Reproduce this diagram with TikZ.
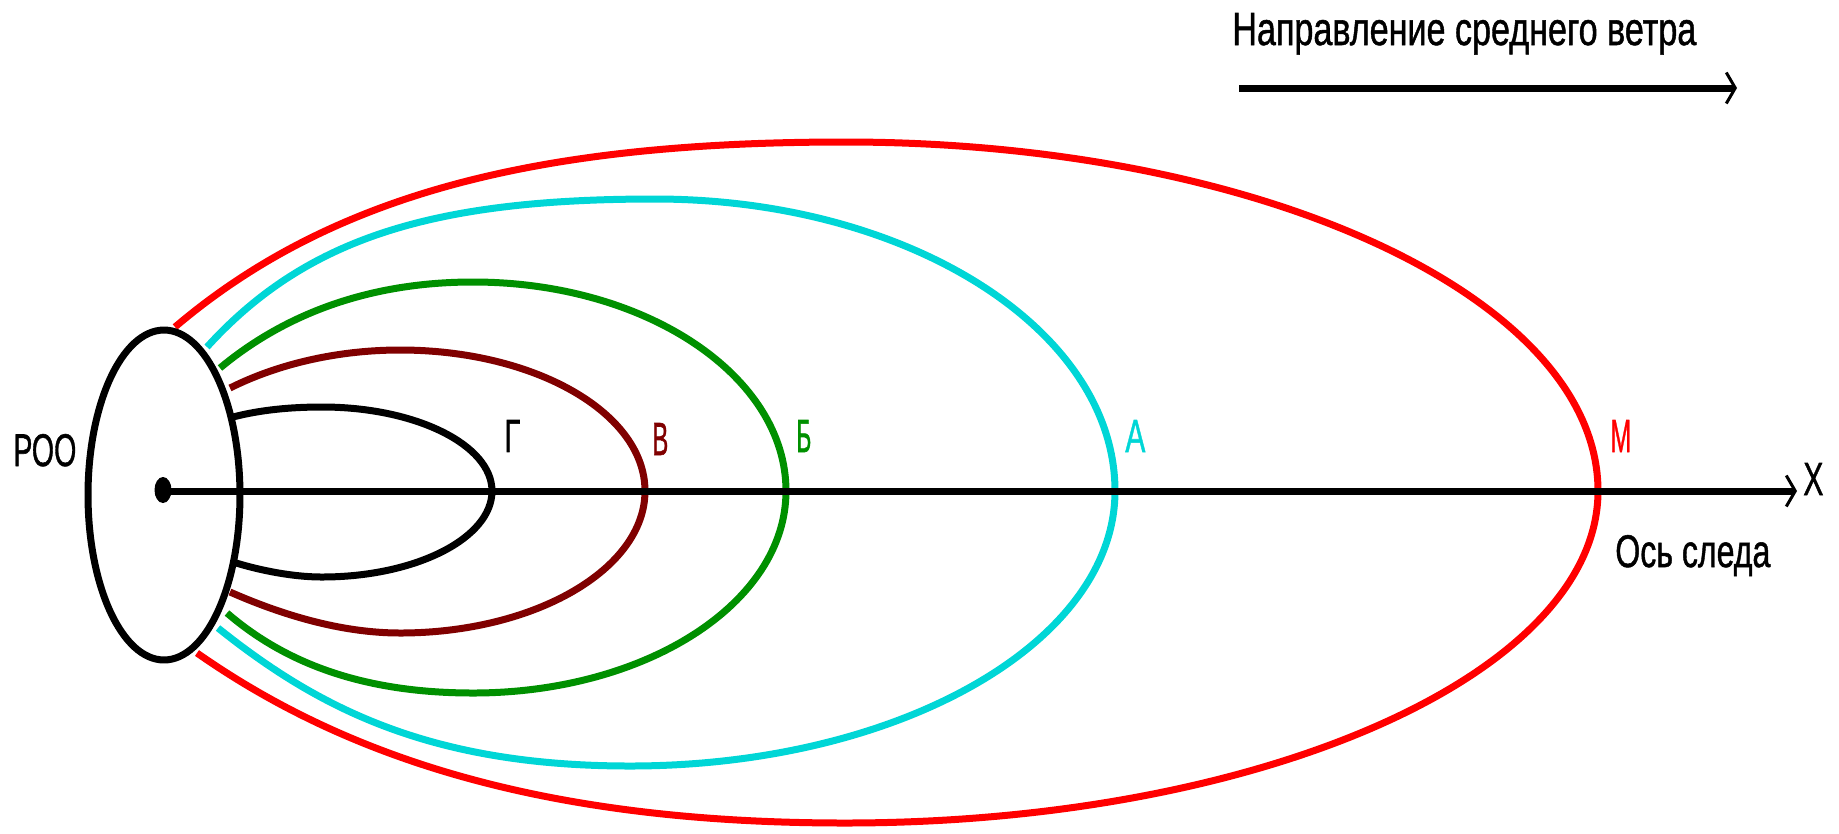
\documentclass[tikz,border=0pt]{standalone}
\usepackage{fontspec}
\setmainfont{Liberation Sans}
\newfontfamily\labfont[FakeBold=1.2]{Liberation Sans}
\usetikzlibrary{arrows.meta}
\definecolor{cM}{RGB}{255,0,0}
\definecolor{cA}{RGB}{0,214,214}
\definecolor{cB}{RGB}{0,144,0}
\definecolor{cV}{RGB}{128,0,0}
\newlength\pxu
\setlength\pxu{0.02cm}
\newcommand{\lab}[3]{\resizebox{#1\pxu}{#2\pxu}{\labfont\fontsize{25}{30}\selectfont #3}}
\begin{document}
\begin{tikzpicture}[x=0.02cm,y=-0.02cm,
  curve/.style={line width=0.14cm, line join=round},
  txt/.style={inner sep=0pt, anchor=base west},
  barb/.style={-{Straight Barb[length=0.18cm, width=0.62cm, line width=0.06cm]}}]
\useasboundingbox (0,0) rectangle (1839,833);
% contour M
\draw[curve, cM] (175,327) .. controls (335,191) and (545,142) .. (845,142)
  .. controls (1261,142) and (1598,298) .. (1598,491)
  .. controls (1598,674) and (1261,823) .. (845,823)
  .. controls (545,823) and (347,758) .. (197,653);
% contour A
\draw[curve, cA] (207,347) .. controls (307,237) and (435,199) .. (655,199)
  .. controls (909,199) and (1115,330) .. (1115,491)
  .. controls (1115,643) and (898,766) .. (630,766)
  .. controls (430,766) and (318,708) .. (218,628);
% contour B
\draw[curve, cB] (220,368) .. controls (280,318) and (363,282) .. (473,282)
  .. controls (646,282) and (786,376) .. (786,491)
  .. controls (786,603) and (646,693) .. (473,693)
  .. controls (363,693) and (285,663) .. (227,613);
% contour V
\draw[curve, cV] (230,388) .. controls (280,363) and (340,350) .. (400,350)
  .. controls (535,350) and (645,413) .. (645,491)
  .. controls (645,569) and (535,633) .. (400,633)
  .. controls (340,633) and (280,614) .. (230,592);
% contour G
\draw[curve, black] (233,417) .. controls (260,410) and (290,407) .. (322,407)
  .. controls (416,407) and (492,445) .. (492,491)
  .. controls (492,538) and (416,577) .. (322,577)
  .. controls (290,577) and (255,569) .. (233,562);
% release source
\draw[line width=0.14cm, fill=white] (164,495) ellipse [x radius=1.52cm, y radius=3.3cm];
\fill (163,490) ellipse [x radius=0.17cm, y radius=0.26cm];
\coordinate (dot) at (163,491);
\coordinate (xend) at (1797,491);
\draw[line width=0.14cm, barb] (dot) -- (xend);
% wind direction
\coordinate (w1) at (1239,88);
\coordinate (w2) at (1737,88);
\draw[line width=0.14cm, barb] (w1) -- (w2);
% labels
\node[txt] (title) at (1232,45) {\lab{464}{32}{Направление среднего ветра}};
\node[txt] (axisname) at (1615,567) {\lab{155}{32}{Ось следа}};
\node[txt] (roo) at (13,466) {\lab{63}{32}{РОО}};
\node[txt] (lx) at (1803,495) {\lab{20}{32}{Х}};
\node[txt, cM] (lm) at (1610,452) {\lab{21}{32}{М}};
\node[txt, cA] (la) at (1125,452) {\lab{20}{32}{А}};
\node[txt, cB] (lb) at (796,452) {\lab{15}{32}{Б}};
\node[txt, cV] (lv) at (652,455) {\lab{16}{32}{В}};
\node[txt] (lg) at (504,452) {\lab{16}{32}{Г}};
\end{tikzpicture}
\end{document}
